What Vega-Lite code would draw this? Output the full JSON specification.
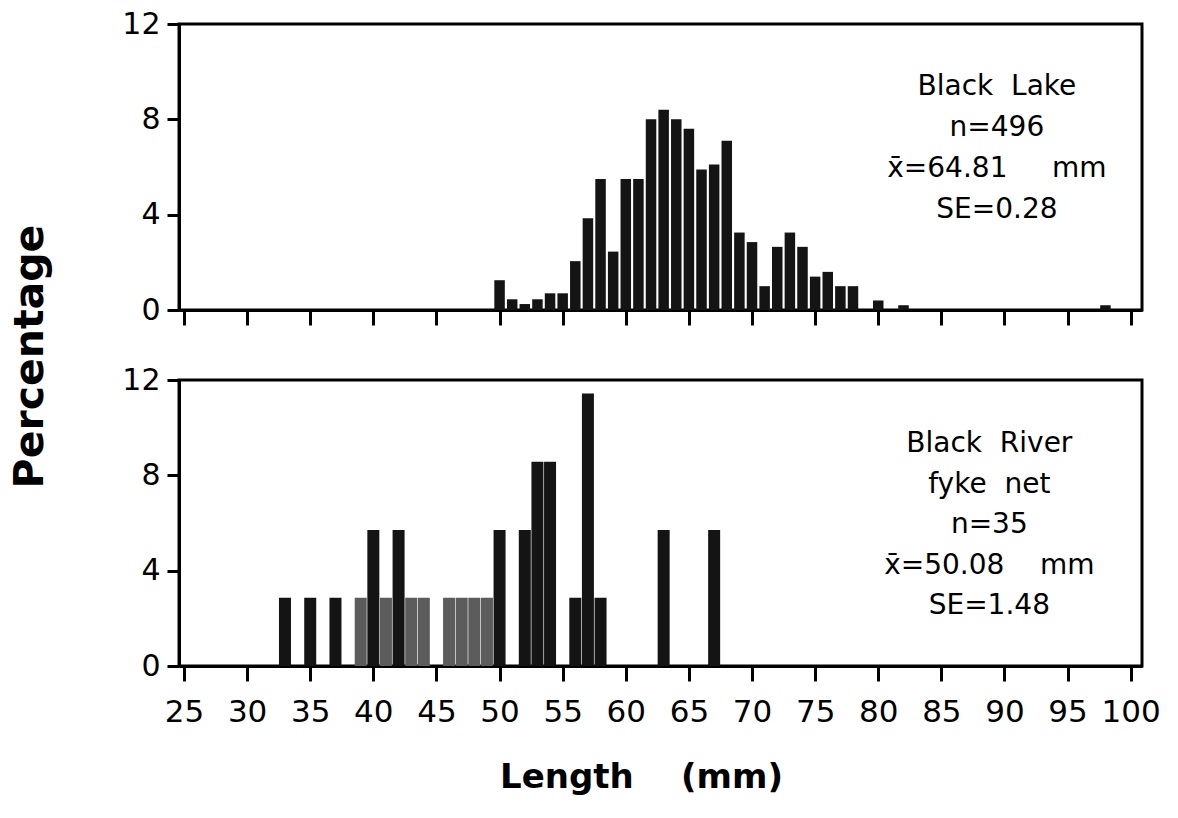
{
  "$schema": "https://vega.github.io/schema/vega-lite/v6.json",
  "autosize": {"type": "pad"},
  "padding": {"left": 7, "top": 7, "right": 5, "bottom": 5},
  "background": "white",
  "bounds": "flush",
  "spacing": 70,
  "datasets": {
    "lake": [
      {"length": 50, "pct": 1.25}, {"length": 51, "pct": 0.45}, {"length": 52, "pct": 0.25},
      {"length": 53, "pct": 0.45}, {"length": 54, "pct": 0.7}, {"length": 55, "pct": 0.7},
      {"length": 56, "pct": 2.05}, {"length": 57, "pct": 3.85}, {"length": 58, "pct": 5.5},
      {"length": 59, "pct": 2.45}, {"length": 60, "pct": 5.5}, {"length": 61, "pct": 5.5},
      {"length": 62, "pct": 8.0}, {"length": 63, "pct": 8.4}, {"length": 64, "pct": 8.0},
      {"length": 65, "pct": 7.6}, {"length": 66, "pct": 5.9}, {"length": 67, "pct": 6.1},
      {"length": 68, "pct": 7.1}, {"length": 69, "pct": 3.25}, {"length": 70, "pct": 2.85},
      {"length": 71, "pct": 1.0}, {"length": 72, "pct": 2.65}, {"length": 73, "pct": 3.25},
      {"length": 74, "pct": 2.65}, {"length": 75, "pct": 1.4}, {"length": 76, "pct": 1.6},
      {"length": 77, "pct": 1.0}, {"length": 78, "pct": 1.0}, {"length": 80, "pct": 0.4},
      {"length": 82, "pct": 0.2}, {"length": 98, "pct": 0.2}
    ],
    "river": [
      {"length": 33, "pct": 2.86}, {"length": 35, "pct": 2.86}, {"length": 37, "pct": 2.86},
      {"length": 39, "pct": 2.86}, {"length": 40, "pct": 5.71}, {"length": 41, "pct": 2.86},
      {"length": 42, "pct": 5.71}, {"length": 43, "pct": 2.86}, {"length": 44, "pct": 2.86},
      {"length": 46, "pct": 2.86}, {"length": 47, "pct": 2.86}, {"length": 48, "pct": 2.86},
      {"length": 49, "pct": 2.86}, {"length": 50, "pct": 5.71}, {"length": 52, "pct": 5.71},
      {"length": 53, "pct": 8.57}, {"length": 54, "pct": 8.57}, {"length": 56, "pct": 2.86},
      {"length": 57, "pct": 11.43}, {"length": 58, "pct": 2.86}, {"length": 63, "pct": 5.71},
      {"length": 67, "pct": 5.71}
    ]
  },
  "config": {
    "font": "DejaVu Sans",
    "view": {"stroke": "black", "strokeWidth": 3},
    "axis": {
      "grid": false,
      "domainColor": "black",
      "domainWidth": 3,
      "tickColor": "black",
      "tickWidth": 3,
      "labelColor": "black",
      "labelFont": "DejaVu Sans",
      "titleColor": "black",
      "titleFont": "DejaVu Sans"
    },
    "axisX": {"tickSize": 15, "labelFontSize": 31},
    "axisY": {"tickSize": 12, "labelFontSize": 30, "labelPadding": 7}
  },
  "vconcat": [
    {
      "width": 963,
      "height": 286,
      "layer": [
        {
          "data": {"name": "lake"},
          "mark": {"type": "bar", "width": 10.5, "color": "#141414"},
          "encoding": {
            "x": {
              "field": "length", "type": "quantitative",
              "scale": {"domain": [25, 100.5], "nice": false, "zero": false},
              "axis": {"values": [25,30,35,40,45,50,55,60,65,70,75,80,85,90,95,100], "labels": false, "title": null}
            },
            "y": {
              "field": "pct", "type": "quantitative",
              "scale": {"domain": [0, 12], "nice": false},
              "axis": {
                "values": [0, 4, 8, 12],
                "title": "Percentage", "titleFontSize": 41, "titleFontWeight": "bold",
                "titleX": -137, "titleY": 332, "titleAngle": -90,
                "titleAlign": "center", "titleBaseline": "alphabetic"
              }
            }
          }
        },
        {
          "data": {"values": [{}]},
          "mark": {
            "type": "text",
            "text": ["Black\u00a0\u00a0Lake", "n=496", "x\u0304=64.81\u00a0\u00a0\u00a0\u00a0\u00a0mm", "SE=0.28"],
            "font": "DejaVu Sans", "fontSize": 28, "lineHeight": 41,
            "align": "center", "baseline": "top", "color": "black"
          },
          "encoding": {"x": {"datum": 89.4}, "y": {"datum": 9.95}}
        }
      ]
    },
    {
      "width": 963,
      "height": 286,
      "layer": [
        {
          "data": {"name": "river"},
          "mark": {"type": "bar", "width": 12},
          "encoding": {
            "x": {
              "field": "length", "type": "quantitative",
              "scale": {"domain": [25, 100.5], "nice": false, "zero": false},
              "axis": {
                "values": [25,30,35,40,45,50,55,60,65,70,75,80,85,90,95,100],
                "labelPadding": 16, "labelOverlap": false, "labelFlush": false, "labelBound": false,
                "title": "Length\u00a0\u00a0\u00a0\u00a0(mm)", "titleFontSize": 34, "titleFontWeight": "bold",
                "titleX": 462, "titleY": 121, "titleAlign": "center", "titleBaseline": "alphabetic"
              }
            },
            "y": {
              "field": "pct", "type": "quantitative",
              "scale": {"domain": [0, 12], "nice": false},
              "axis": {"values": [0, 4, 8, 12], "title": null}
            },
            "color": {
              "condition": {"test": "datum.length >= 39 && datum.length <= 49 && datum.pct < 3", "value": "#5c5c5c"},
              "value": "#141414"
            }
          }
        },
        {
          "data": {"values": [{}]},
          "mark": {
            "type": "text",
            "text": ["Black\u00a0\u00a0River", "fyke\u00a0\u00a0net", "n=35", "x\u0304=50.08\u00a0\u00a0\u00a0\u00a0mm", "SE=1.48"],
            "font": "DejaVu Sans", "fontSize": 28, "lineHeight": 40.5,
            "align": "center", "baseline": "top", "color": "black"
          },
          "encoding": {"x": {"datum": 88.8}, "y": {"datum": 9.9}}
        }
      ]
    }
  ]
}
